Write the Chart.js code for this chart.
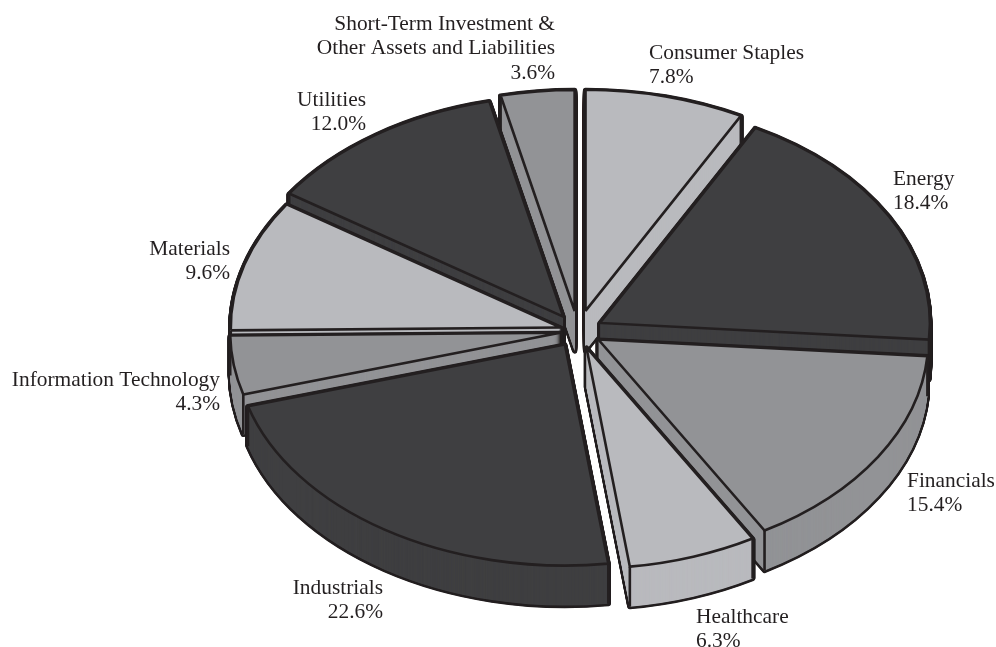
<!DOCTYPE html>
<html>
<head>
<meta charset="utf-8">
<style>
  html, body { margin: 0; padding: 0; background: #fff; }
  #sectors { display: block; }
</style>
<script src="https://cdn.jsdelivr.net/npm/chart.js@4/dist/chart.umd.min.js"></script>
</head>
<body>
<canvas id="sectors" width="996" height="647"></canvas>
<script>
const categories = [
  ["Consumer Staples"],
  ["Energy"],
  ["Financials"],
  ["Healthcare"],
  ["Industrials"],
  ["Information Technology"],
  ["Materials"],
  ["Utilities"],
  ["Short-Term Investment &", "Other Assets and Liabilities"]
];
const shares = [7.8, 18.4, 15.4, 6.3, 22.6, 4.3, 9.6, 12.0, 3.6];

const LIGHT = "#b9babe", MID = "#929396", DARK = "#3f3f41", INK = "#231f20";
const sliceColors = [LIGHT, DARK, MID, LIGHT, DARK, MID, LIGHT, DARK, MID];

// how far each slice is pulled out of the pie, in px along its own direction
const explode = [31, 25, 24, 26, 24, 18, 18, 26, 30];
const TILT = 0.67;
const DEPTH = 40;
const PEN = 2.6;

// label anchor: x, first baseline, text alignment
const labelSpots = [
  [649, 59, "left"],
  [893, 185, "left"],
  [907, 487, "left"],
  [696, 623, "left"],
  [383, 594, "right"],
  [220, 386, "right"],
  [230, 255, "right"],
  [366, 106, "right"],
  [555, 30, "right"]
];

const tiltedPie = {
  id: "tiltedPie",
  beforeDatasetDraw(chart) {
    const ctx = chart.ctx;
    const arcs = chart.getDatasetMeta(0).data;
    const cx = arcs[0].x, cy = arcs[0].y;

    // keep the pen round while the geometry is squashed
    const nativeStroke = ctx.stroke;
    ctx.stroke = function () {
      ctx.save();
      ctx.setTransform(1, 0, 0, 1, 0, 0);
      nativeStroke.call(ctx);
      ctx.restore();
    };
    ctx.miterLimit = 3;

    const midAngle = a => (a.startAngle + a.endAngle) / 2;
    const order = arcs.map((a, i) => i).sort((p, q) => Math.sin(midAngle(arcs[p])) - Math.sin(midAngle(arcs[q])));

    const paint = (arc, drop, width, join) => {
      const saved = arc.options;
      arc.options = { ...saved, borderWidth: width, borderJoinStyle: join };
      ctx.save();
      ctx.translate(0, drop / TILT);
      arc.draw(ctx);
      ctx.restore();
      arc.options = saved;
    };

    order.forEach(i => {
      const arc = arcs[i];
      const mid = midAngle(arc);
      ctx.save();
      ctx.translate(cx, cy);
      ctx.scale(1, TILT);
      ctx.translate(-cx, -cy);
      ctx.translate(Math.cos(mid) * explode[i], Math.sin(mid) * explode[i]);

      // side wall: outline of the whole stack first, then its fill on top
      for (let d = DEPTH; d > 0; d -= 0.5) paint(arc, d, PEN * 2, "round");
      for (let d = DEPTH; d > 0; d -= 0.5) paint(arc, d, 0, "round");

      // vertical edges at the two rim corners
      ctx.beginPath();
      [arc.startAngle, arc.endAngle].forEach(a => {
        const x = arc.x + Math.cos(a) * arc.outerRadius;
        const y = arc.y + Math.sin(a) * arc.outerRadius;
        ctx.moveTo(x, y);
        ctx.lineTo(x, y + DEPTH / TILT);
      });
      ctx.strokeStyle = INK;
      ctx.lineWidth = PEN;
      ctx.stroke();

      paint(arc, 0, PEN, "miter");
      ctx.restore();
    });

    delete ctx.stroke;
    return false;
  },
  afterDraw(chart) {
    const ctx = chart.ctx;
    ctx.save();
    ctx.font = '21.4px "Liberation Serif"';
    ctx.fillStyle = INK;
    categories.forEach((lines, i) => {
      const [x, y, align] = labelSpots[i];
      ctx.textAlign = align;
      const rows = [...lines, shares[i].toFixed(1) + "%"];
      rows.forEach((row, r) => ctx.fillText(row, x, y + r * 24.3));
    });
    ctx.restore();
  }
};

new Chart(document.querySelector("#sectors"), {
  type: "pie",
  data: {
    labels: categories,
    datasets: [{
      data: shares,
      backgroundColor: sliceColors,
      borderColor: INK,
      borderWidth: PEN
    }]
  },
  options: {
    responsive: false,
    animation: false,
    events: [],
    radius: 330,
    layout: { padding: { left: 160, top: 15 } },
    plugins: { legend: { display: false }, tooltip: { enabled: false } }
  },
  plugins: [tiltedPie]
});
</script>
</body>
</html>
